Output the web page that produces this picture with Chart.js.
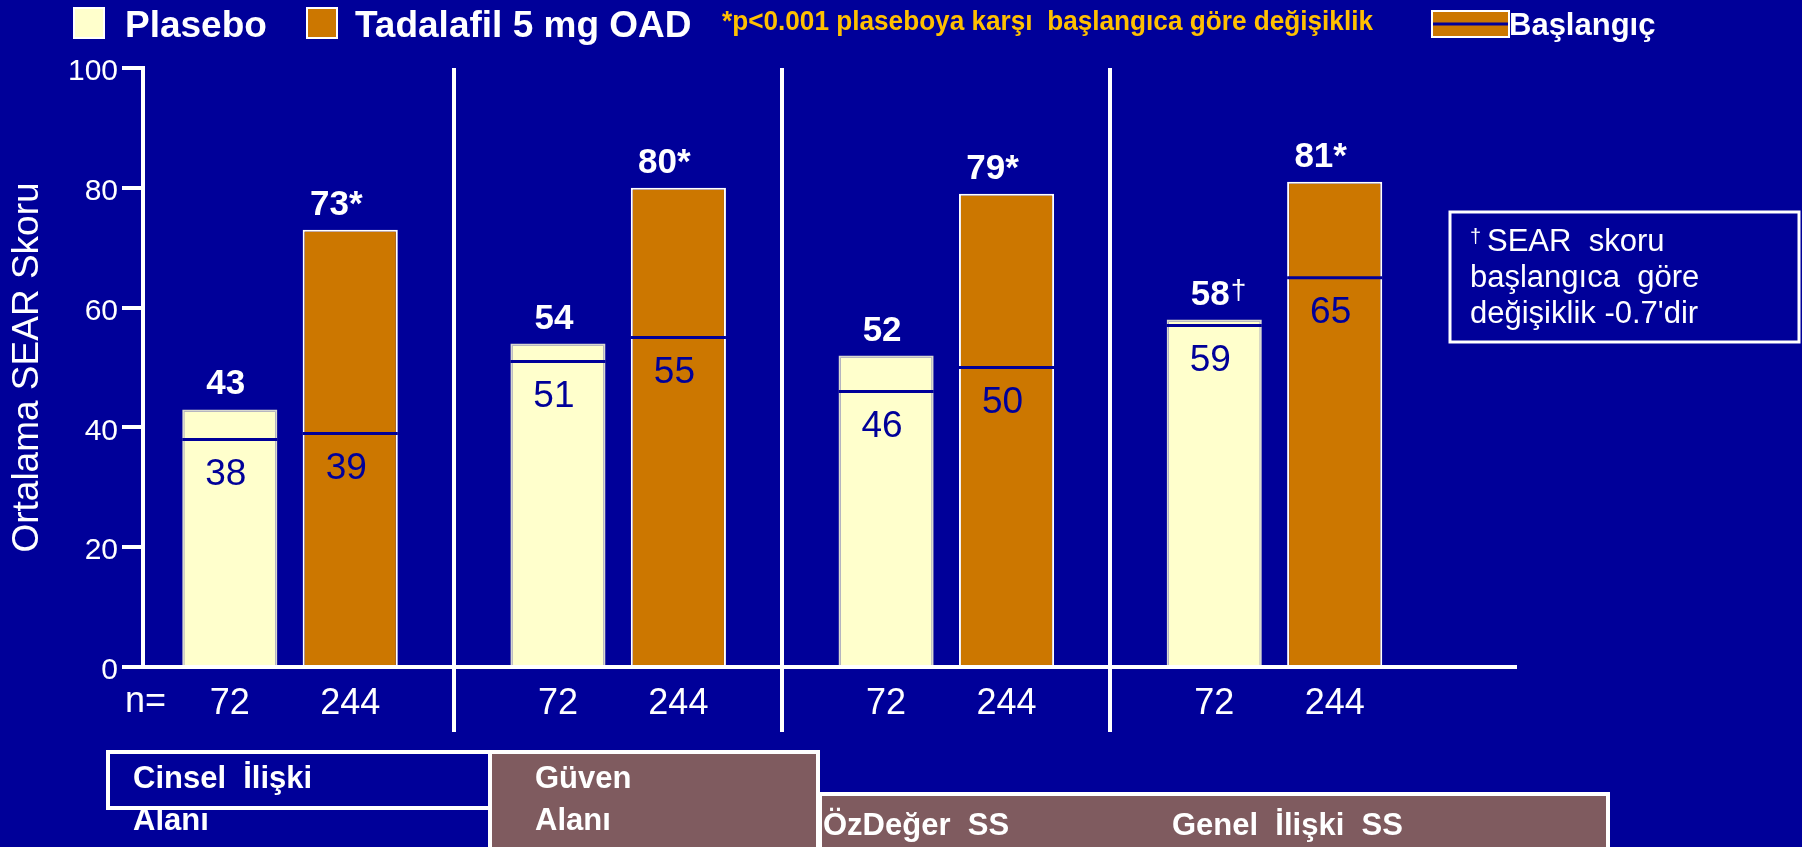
<!DOCTYPE html>
<html>
<head>
<meta charset="utf-8">
<title>Ortalama SEAR Skoru</title>
<script src="https://cdn.jsdelivr.net/npm/chart.js@4.4.1/dist/chart.umd.min.js"></script>
<style>
  html, body { margin: 0; padding: 0; background: #000099; overflow: hidden; }
  #kutu { width: 1802px; height: 847px; }
</style>
</head>
<body>
<div id="kutu"><canvas id="grafik" width="1802" height="847"></canvas></div>
<script>
// veriler
const kategoriler = ['Cinsel  İlişki\nAlanı', 'Güven\nAlanı', 'ÖzDeğer  SS', 'Genel  İlişki  SS'];
const plasebo = [43, 54, 52, 58];
const tadalafil = [73, 80, 79, 81];
const plaseboBaslangic = [38, 51, 46, 59];
const tadalafilBaslangic = [39, 55, 50, 65];
const plaseboIsaret = ['', '', '', '†'];
const tadalafilIsaret = ['*', '*', '*', '*'];
const plaseboN = [72, 72, 72, 72];
const tadalafilN = [244, 244, 244, 244];
const yAdim = 20;

const LACIVERT = '#000099';
const SARI = '#FFFFCC';
const TURUNCU = '#CC7700';
const KAHVE = '#7F5B5F';
const ALTIN = '#FFC000';
const YAZI = '"Liberation Sans", Arial, sans-serif';

Chart.defaults.font.family = YAZI;

function kutuCiz(ctx, x, y, w, h, dolgu) {
  ctx.fillStyle = dolgu;
  ctx.fillRect(x, y, w, h);
  ctx.strokeStyle = '#FFFFFF';
  ctx.lineWidth = 4;
  ctx.strokeRect(x, y, w, h);
}

const cizimler = {
  id: 'cizimler',
  beforeDraw(chart) {
    const ctx = chart.ctx;
    ctx.save();
    ctx.fillStyle = LACIVERT;
    ctx.fillRect(0, 0, chart.width, chart.height);
    ctx.restore();
  },
  afterDatasetsDraw(chart) {
    const ctx = chart.ctx;
    const y = chart.scales.y;
    const alt = chart.chartArea.bottom;
    const seriler = [
      { bas: plaseboBaslangic, isaret: plaseboIsaret, n: plaseboN, kay: -4, deger: plasebo },
      { bas: tadalafilBaslangic, isaret: tadalafilIsaret, n: tadalafilN, kay: -14, deger: tadalafil }
    ];
    ctx.save();
    seriler.forEach((s, d) => {
      chart.getDatasetMeta(d).data.forEach((bar, i) => {
        const sol = bar.x - bar.width / 2;
        // baslangic cizgisi (cubugun icinde kalsin)
        let by = y.getPixelForValue(s.bas[i]);
        if (by < bar.y + 6) by = bar.y + 6;
        ctx.strokeStyle = LACIVERT;
        ctx.lineWidth = 3;
        ctx.beginPath();
        ctx.moveTo(sol, by);
        ctx.lineTo(sol + bar.width, by);
        ctx.stroke();

        ctx.fillStyle = LACIVERT;
        ctx.font = '37px ' + YAZI;
        ctx.textAlign = 'center';
        ctx.textBaseline = 'middle';
        ctx.fillText(String(s.bas[i]), bar.x - 4, by + 35);

        // ust deger etiketi
        ctx.fillStyle = '#FFFFFF';
        ctx.textBaseline = 'alphabetic';
        ctx.font = 'bold 35px ' + YAZI;
        const ty = bar.y - 15;
        if (s.isaret[i] === '†') {
          const w = ctx.measureText(String(s.deger[i])).width;
          ctx.fillText(String(s.deger[i]), bar.x + s.kay, ty);
          ctx.font = '28px ' + YAZI;
          ctx.textAlign = 'left';
          ctx.fillText('†', bar.x + s.kay + w / 2 + 1, ty - 6);
        } else {
          ctx.fillText(s.deger[i] + s.isaret[i], bar.x + s.kay, ty);
        }

        // n etiketi
        ctx.font = '36px ' + YAZI;
        ctx.textAlign = 'center';
        ctx.fillText(String(s.n[i]), bar.x, alt + 47);
      });
    });
    ctx.textAlign = 'left';
    ctx.font = '36px ' + YAZI;
    ctx.fillText('n=', 125, alt + 45);
    ctx.restore();
  },
  afterDraw(chart) {
    const ctx = chart.ctx;
    const ds = chart.data.datasets;
    ctx.save();
    ctx.textBaseline = 'alphabetic';
    ctx.textAlign = 'left';

    // gosterge
    ctx.lineWidth = 2;
    ctx.strokeStyle = '#FFFFFF';
    ctx.fillStyle = ds[0].backgroundColor;
    ctx.fillRect(74, 8, 30, 30);
    ctx.strokeRect(74, 8, 30, 30);
    ctx.fillStyle = ds[1].backgroundColor;
    ctx.fillRect(307, 8, 30, 30);
    ctx.strokeRect(307, 8, 30, 30);
    ctx.fillStyle = '#FFFFFF';
    ctx.font = 'bold 37px ' + YAZI;
    ctx.fillText(ds[0].label, 125, 37);
    ctx.fillText(ds[1].label, 355, 37, 340);

    ctx.fillStyle = ALTIN;
    ctx.font = 'bold 28px ' + YAZI;
    ctx.fillText('*p<0.001 plaseboya karşı  başlangıca göre değişiklik', 722, 30, 651);

    ctx.fillStyle = TURUNCU;
    ctx.fillRect(1432, 11, 77, 26);
    ctx.strokeRect(1432, 11, 77, 26);
    ctx.strokeStyle = LACIVERT;
    ctx.lineWidth = 3;
    ctx.beginPath();
    ctx.moveTo(1433, 24);
    ctx.lineTo(1508, 24);
    ctx.stroke();
    ctx.fillStyle = '#FFFFFF';
    ctx.font = 'bold 31px ' + YAZI;
    ctx.fillText('Başlangıç', 1509, 35);

    // dipnot kutusu
    ctx.strokeStyle = '#FFFFFF';
    ctx.lineWidth = 3;
    ctx.strokeRect(1450, 212, 349, 130);
    ctx.fillStyle = '#FFFFFF';
    ctx.font = '20px ' + YAZI;
    ctx.fillText('†', 1470, 243);
    ctx.font = '31px ' + YAZI;
    ctx.fillText('SEAR  skoru', 1487, 251);
    ctx.fillText('başlangıca  göre', 1470, 287);
    ctx.fillText("değişiklik -0.7'dir", 1470, 323);

    // alt kategori kutulari
    kutuCiz(ctx, 108, 752, 382, 56, LACIVERT);
    kutuCiz(ctx, 490, 752, 328, 110, KAHVE);
    kutuCiz(ctx, 820, 794, 788, 70, KAHVE);
    ctx.fillStyle = '#FFFFFF';
    ctx.font = 'bold 31px ' + YAZI;
    const konum = [[133, 788], [535, 788], [823, 835], [1172, 835]];
    kategoriler.forEach((k, i) => {
      k.split('\n').forEach((satir, j) => {
        ctx.fillText(satir, konum[i][0], konum[i][1] + j * 42);
      });
    });
    ctx.restore();
  }
};

new Chart(document.getElementById('grafik').getContext('2d'), {
  type: 'bar',
  data: {
    datasets: [{
      label: 'Plasebo',
      data: kategoriler.map((k, i) => ({ x: i, y: plasebo[i] })),
      backgroundColor: SARI,
      borderColor: '#D8D8D0',
      borderWidth: 2
    }, {
      label: 'Tadalafil 5 mg OAD',
      data: kategoriler.map((k, i) => ({ x: i, y: tadalafil[i] })),
      backgroundColor: TURUNCU,
      borderColor: '#FFFFFF',
      borderWidth: 2
    }]
  },
  options: {
    responsive: false,
    animation: false,
    categoryPercentage: 0.734,
    barPercentage: 0.79,
    layout: { padding: { top: 68, right: 287, left: 0, bottom: 0 } },
    plugins: {
      legend: { display: false },
      tooltip: { enabled: false }
    },
    scales: {
      x: {
        type: 'linear',
        min: -0.448,
        max: 3.733,
        offset: false,
        afterBuildTicks: (s) => {
          s.ticks = kategoriler.slice(1).map((k, i) => ({ value: i + 0.5 }));
        },
        afterFit: (s) => { s.height = 180; },
        ticks: { display: false },
        grid: {
          offset: false,
          color: '#FFFFFF',
          lineWidth: 4,
          tickLength: 65
        },
        border: { display: true, color: '#FFFFFF', width: 4 }
      },
      y: {
        min: 0,
        max: 100,
        afterFit: (s) => { s.width = 143; },
        ticks: {
          stepSize: yAdim,
          color: '#FFFFFF',
          font: { size: 30 },
          padding: 4,
          labelOffset: 4
        },
        grid: {
          drawOnChartArea: false,
          color: '#FFFFFF',
          lineWidth: 4,
          tickLength: 21
        },
        border: { display: true, color: '#FFFFFF', width: 4 },
        title: {
          display: true,
          text: 'Ortalama SEAR Skoru',
          color: '#FFFFFF',
          font: { size: 37 },
          padding: { top: 6, bottom: 0 }
        }
      }
    }
  },
  plugins: [cizimler]
});
</script>
</body>
</html>
